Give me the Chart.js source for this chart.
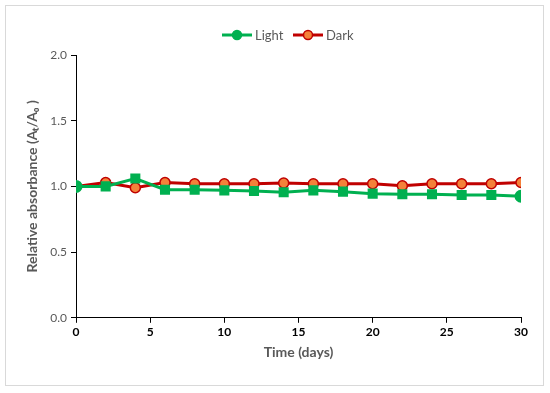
<!DOCTYPE html>
<html><head><meta charset="utf-8">
<script src="https://cdn.jsdelivr.net/npm/chart.js@4/dist/chart.umd.min.js"></script>
<style>html,body{margin:0;padding:0;background:#fff}#wrap{width:550px;height:393px}</style>
</head><body><div id="wrap"><canvas id="c" width="550" height="393"></canvas></div>
<script>
const days = [0,2,4,6,8,10,12,14,16,18,20,22,24,26,28,30];
const lightValues = [1.00,1.00,1.06,0.975,0.975,0.97,0.965,0.955,0.97,0.96,0.945,0.94,0.94,0.935,0.935,0.925];
const darkValues  = [1.00,1.03,0.99,1.03,1.02,1.02,1.02,1.025,1.02,1.02,1.02,1.005,1.02,1.02,1.02,1.03];
const seriesNames = ['Light','Dark'];
const xTicks = [0,5,10,15,20,25,30];
const yTicks = [0,0.5,1.0,1.5,2.0];

const GREEN='#00B050', RED='#C00000', ORANGE='#F4813A';
const FONT='Lato, "Liberation Sans", sans-serif';
const lightStyles = days.map((d,i)=> (i===0||i===days.length-1)?'circle':'rect');

const framePlugin = {
  id:'frame',
  beforeDraw(chart){
    const ctx=chart.ctx; ctx.save();
    ctx.fillStyle='#fff'; ctx.fillRect(0,0,550,393);
    ctx.strokeStyle='#D9D9D9'; ctx.lineWidth=1;
    ctx.strokeRect(5.5,5.5,538,380);
    ctx.restore();
  },
  afterDraw(chart){
    const ctx=chart.ctx; ctx.save();
    const items=[{name:seriesNames[0],line:GREEN,fill:GREEN,border:GREEN,x:222},{name:seriesNames[1],line:RED,fill:ORANGE,border:RED,x:293}];
    const y=35;
    items.forEach(it=>{
      ctx.strokeStyle=it.line; ctx.lineWidth=3;
      ctx.beginPath(); ctx.moveTo(it.x,y); ctx.lineTo(it.x+30,y); ctx.stroke();
      ctx.beginPath(); ctx.arc(it.x+15,y,4.5,0,Math.PI*2);
      ctx.fillStyle=it.fill; ctx.fill(); ctx.lineWidth=1.5; ctx.strokeStyle=it.border; ctx.stroke();
      ctx.fillStyle='#595959'; ctx.font='13px '+FONT;
      ctx.textBaseline='middle'; ctx.textAlign='left';
      ctx.fillText(it.name,it.x+33,y+1);
    });
    ctx.restore();
  }
};

new Chart(document.getElementById('c'),{
  type:'line',
  data:{datasets:[
    {label:seriesNames[0],data:days.map((d,i)=>({x:d,y:lightValues[i]})),borderColor:GREEN,backgroundColor:GREEN,borderWidth:3,pointStyle:lightStyles,pointRadius:5,pointBorderColor:GREEN,pointBackgroundColor:GREEN,tension:0},
    {label:seriesNames[1],data:days.map((d,i)=>({x:d,y:darkValues[i]})),borderColor:RED,backgroundColor:ORANGE,borderWidth:3,pointStyle:'circle',pointRadius:5,pointBorderWidth:1.5,pointBorderColor:RED,pointBackgroundColor:ORANGE,tension:0}
  ]},
  options:{
    responsive:false,animation:false,
    layout:{padding:{left:20,right:29,top:55,bottom:28}},
    plugins:{legend:{display:false},tooltip:{enabled:false}},
    scales:{
      x:{type:'linear',min:0,max:30,
        afterBuildTicks(s){s.ticks=xTicks.map(v=>({value:v}));},
        grid:{drawOnChartArea:false,drawTicks:true,tickLength:5,color:'#000'},
        border:{color:'#000',width:1},
        ticks:{color:'#000',font:{family:FONT,size:12,weight:'bold'},padding:2,maxRotation:0},
        title:{display:true,text:'Time (days)',color:'#595959',font:{family:FONT,size:14,weight:'bold'},padding:{top:3}}
      },
      y:{min:0,max:2,
        afterBuildTicks(s){s.ticks=yTicks.map(v=>({value:v}));},
        grid:{drawOnChartArea:false,drawTicks:true,tickLength:5,color:'#000'},
        border:{color:'#000',width:1},
        ticks:{color:'#595959',font:{family:FONT,size:12},padding:4,callback:v=>v.toFixed(1)},
        title:{display:true,text:'Relative absorbance (Aₜ/A₀ )',color:'#595959',font:{family:FONT,size:14,weight:'bold'},padding:{bottom:4}},
        afterFit(s){s.width=56;}
      }
    }
  },
  plugins:[framePlugin]
});
</script></body></html>
